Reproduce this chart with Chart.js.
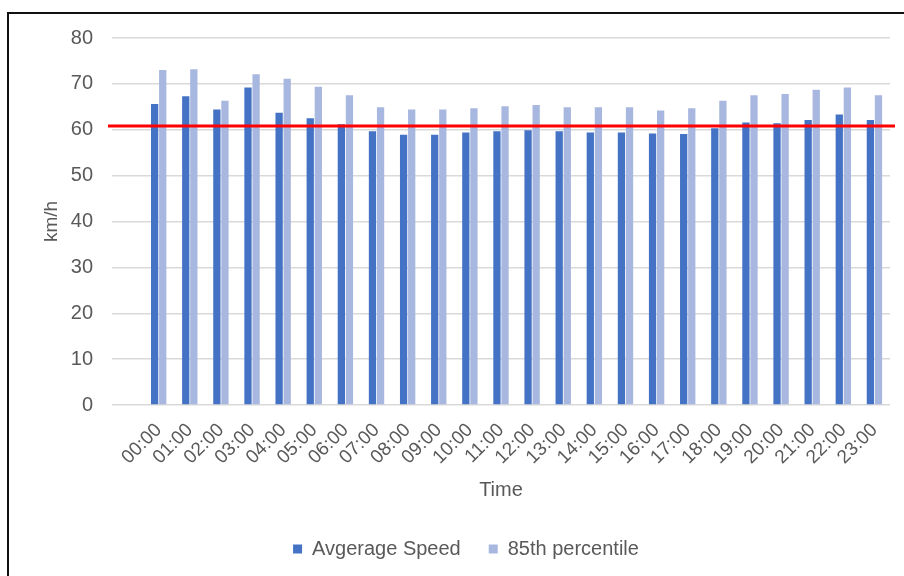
<!DOCTYPE html>
<html lang="en">
<head>
    <meta charset="UTF-8">
    <title>speed by hour</title>
    <script src="https://cdn.jsdelivr.net/npm/chart.js"></script>
    <style>
        body {
            margin: 0;
            padding: 0;
            background: #fff;
            font-family: "Liberation Sans", Arial, sans-serif;
        }
        .wrap {
            position: relative;
            width: 904px;
            height: 576px;
            overflow: hidden;
        }
        .frame {
            position: absolute;
            left: 7px;
            top: 12px;
            width: 1000px;
            height: 700px;
            border-left: 2px solid #111;
            border-top: 2px solid #111;
            pointer-events: none;
        }
        canvas {
            position: absolute;
            left: 0;
            top: 0;
        }
    </style>
</head>
<body>
<div class="wrap">
    <canvas id="speedChart" width="904" height="576"></canvas>
    <div class="frame"></div>
</div>

<script>
    var hours = ['00:00', '01:00', '02:00', '03:00', '04:00', '05:00', '06:00', '07:00',
                 '08:00', '09:00', '10:00', '11:00', '12:00', '13:00', '14:00', '15:00',
                 '16:00', '17:00', '18:00', '19:00', '20:00', '21:00', '22:00', '23:00'];
    var avgSpeed = [65.6, 67.3, 64.4, 69.2, 63.7, 62.5, 61.2, 59.7, 58.9, 58.9, 59.4, 59.7,
                    59.9, 59.7, 59.4, 59.4, 59.2, 59.1, 60.3, 61.6, 61.4, 62.1, 63.3, 62.1];
    var p85 = [73.0, 73.2, 66.3, 72.1, 71.1, 69.4, 67.5, 64.9, 64.4, 64.4, 64.7, 65.1,
               65.4, 64.9, 64.9, 64.9, 64.2, 64.7, 66.3, 67.5, 67.8, 68.7, 69.2, 67.5];
    var yTicks = [0, 10, 20, 30, 40, 50, 60, 70, 80];
    var speedLimit = 60.8;   // red reference line

    // the source sheet has an empty first row, so the plot keeps a blank slot on the left
    var labels = [''].concat(hours);
    var avgData = [null].concat(avgSpeed);
    var p85Data = [null].concat(p85);

    var textColor = '#595959';
    var fontFamily = '"Liberation Sans", Arial, sans-serif';

    var limitLine = {
        id: 'limitLine',
        afterDatasetsDraw: function (chart) {
            var ctx = chart.ctx;
            var area = chart.chartArea;
            var y = chart.scales.y.getPixelForValue(speedLimit);
            ctx.save();
            ctx.strokeStyle = '#ff0000';
            ctx.lineWidth = 3;
            ctx.beginPath();
            ctx.moveTo(area.left - 4, y);
            ctx.lineTo(area.right + 5, y);
            ctx.stroke();
            ctx.restore();
        }
    };

    var ctx = document.getElementById('speedChart').getContext('2d');
    var speedChart = new Chart(ctx, {
        type: 'bar',
        data: {
            labels: labels,
            datasets: [{
                label: 'Avgerage Speed',
                data: avgData,
                backgroundColor: '#4472c4',
                categoryPercentage: 0.52,
                barPercentage: 0.9
            }, {
                label: '85th percentile',
                data: p85Data,
                backgroundColor: '#a8b7df',
                categoryPercentage: 0.52,
                barPercentage: 0.9
            }]
        },
        options: {
            responsive: false,
            animation: false,
            layout: {
                padding: { left: 42, right: 14, top: 38, bottom: 7 }
            },
            plugins: {
                tooltip: { enabled: false },
                legend: {
                    position: 'bottom',
                    labels: {
                        color: textColor,
                        boxWidth: 9,
                        boxHeight: 9,
                        padding: 28,
                        font: { family: fontFamily, size: 20 }
                    }
                }
            },
            scales: {
                x: {
                    grid: { display: false },
                    border: { display: false },
                    ticks: {
                        color: textColor,
                        autoSkip: false,
                        minRotation: 45,
                        maxRotation: 45,
                        padding: 6,
                        font: { family: fontFamily, size: 19 }
                    },
                    title: {
                        display: true,
                        text: 'Time',
                        color: textColor,
                        padding: { top: 0, bottom: 9 },
                        font: { family: fontFamily, size: 20 }
                    },
                    afterFit: function (scale) { scale.height = 106; }
                },
                y: {
                    min: 0,
                    max: 80,
                    afterBuildTicks: function (scale) {
                        scale.ticks = yTicks.map(function (v) { return { value: v }; });
                    },
                    grid: { color: '#d9d9d9', lineWidth: 1.5, drawTicks: false },
                    border: { display: false },
                    ticks: {
                        color: textColor,
                        padding: 19,
                        font: { family: fontFamily, size: 20 }
                    },
                    title: {
                        display: true,
                        text: 'km/h',
                        color: textColor,
                        padding: { top: -2, bottom: 0 },
                        font: { family: fontFamily, size: 19 }
                    },
                    afterFit: function (scale) { scale.width = 70; }
                }
            }
        },
        plugins: [limitLine]
    });
</script>
</body>
</html>
